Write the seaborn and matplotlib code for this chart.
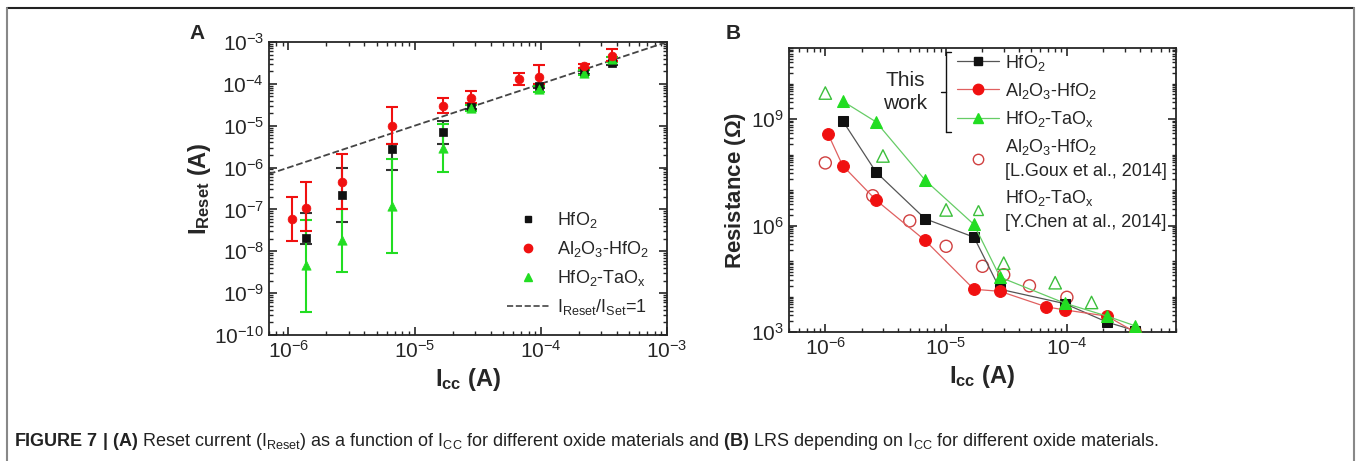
import numpy as np
import matplotlib
matplotlib.use("Agg")
import matplotlib.pyplot as plt
import seaborn as sns
from matplotlib.lines import Line2D
from matplotlib.ticker import LogLocator, FixedLocator, NullFormatter

# datos panel A: I_reset vs I_cc
icc_hfo2 = [1.37e-6, 2.64e-6, 6.6e-6, 1.69e-5, 2.78e-5, 9.6e-5, 2.18e-4, 3.66e-4]
ires_hfo2 = [2.1e-8, 2.2e-7, 2.8e-6, 6.9e-6, 2.8e-5, 8.9e-5, 1.95e-4, 3.2e-4]
hi_hfo2 = [8.3e-8, 1.0e-6, 3.6e-6, 1.3e-5, 3.2e-5, 1.0e-4, 2.2e-4, 3.5e-4]
lo_hfo2 = [1.5e-8, 5.0e-8, 8.7e-7, 3.6e-6, 2.5e-5, 8.0e-5, 1.75e-4, 2.9e-4]

icc_al = [1.06e-6, 1.37e-6, 2.64e-6, 6.6e-6, 1.69e-5, 2.78e-5, 6.77e-5, 9.6e-5, 2.18e-4, 3.66e-4]
ires_al = [5.9e-8, 1.1e-7, 4.6e-7, 1.0e-5, 2.95e-5, 4.7e-5, 1.3e-4, 1.45e-4, 2.7e-4, 4.7e-4]
hi_al = [2.0e-7, 4.6e-7, 2.1e-6, 2.75e-5, 4.5e-5, 6.9e-5, 1.8e-4, 2.8e-4, 3.0e-4, 6.8e-4]
lo_al = [1.8e-8, 3.0e-8, 1.0e-7, 3.6e-6, 2.0e-5, 3.5e-5, 9.3e-5, 1.0e-4, 2.4e-4, 3.5e-4]

icc_ta = [1.37e-6, 2.64e-6, 6.6e-6, 1.69e-5, 2.78e-5, 9.6e-5, 2.18e-4, 3.66e-4]
ires_ta = [4.6e-9, 1.9e-8, 1.2e-7, 2.9e-6, 2.6e-5, 7.4e-5, 1.8e-4, 3.9e-4]
hi_ta = [5.7e-8, 1.0e-7, 1.6e-6, 1.07e-5, 3.2e-5, 9.0e-5, 2.1e-4, 4.4e-4]
lo_ta = [3.5e-10, 3.2e-9, 9.1e-9, 7.8e-7, 2.2e-5, 6.5e-5, 1.6e-4, 3.4e-4]

linea_ref = [7.0e-7, 1.0e-3]  # I_reset/I_set = 1

# datos panel B: resistencia LRS vs I_cc
icc_b = [1.39e-6, 2.63e-6, 6.7e-6, 1.7e-5, 2.8e-5, 9.6e-5, 2.15e-4, 3.66e-4]
r_hfo2 = [9.0e8, 3.2e7, 1.55e6, 4.7e5, 1.6e4, 6.3e3, 1.9e3, 1.1e3]
r_ta = [3.2e9, 8.3e8, 1.9e7, 1.07e6, 3.5e4, 6.5e3, 2.8e3, 1.5e3]
icc_b_al = [1.05e-6, 1.39e-6, 2.63e-6, 6.7e-6, 1.7e-5, 2.8e-5, 6.77e-5, 9.6e-5, 2.15e-4, 3.66e-4]
r_al = [3.9e8, 4.9e7, 5.2e6, 3.8e5, 1.6e4, 1.4e4, 5.1e3, 4.2e3, 2.8e3, 1.0e3]
icc_goux = [1.0e-6, 2.47e-6, 5.0e-6, 1.0e-5, 2.0e-5, 3.0e-5, 4.9e-5, 1.0e-4]
r_goux = [5.8e7, 6.9e6, 1.35e6, 2.6e5, 7.1e4, 4.1e4, 2.0e4, 9.5e3]
icc_chen = [1.0e-6, 3.0e-6, 1.0e-5, 3.0e-5, 8.0e-5, 1.6e-4]
r_chen = [5.4e9, 9.1e7, 2.75e6, 8.7e4, 2.45e4, 6.8e3]

# estilo
sns.set_style("ticks")
plt.rcParams["font.family"] = ["Liberation Sans", "DejaVu Sans"]
plt.rcParams["mathtext.fontset"] = "custom"
plt.rcParams["mathtext.rm"] = "Liberation Sans"
plt.rcParams["mathtext.it"] = "Liberation Sans:italic"
plt.rcParams["mathtext.bf"] = "Liberation Sans:bold"
plt.rcParams["axes.linewidth"] = 1.3

NEGRO = "#111111"
ROJO = "#f01010"
VERDE = "#22dd22"

fig = plt.figure(figsize=(13.57, 4.61), dpi=100)
axA = fig.add_axes([0.1982, 0.2733, 0.2933, 0.6356])
axB = fig.add_axes([0.5814, 0.2798, 0.2852, 0.6160])


def estilo_log(ax):
    ax.set_xscale("log")
    ax.set_yscale("log")
    ax.tick_params(which="both", direction="in", top=True, right=True, labelsize=15)
    ax.tick_params(which="major", length=6, width=1.2)
    ax.tick_params(which="minor", length=3, width=1.0)
    ax.xaxis.set_minor_locator(LogLocator(base=10, subs=np.arange(2, 10), numticks=100))
    ax.xaxis.set_minor_formatter(NullFormatter())


# ---- panel A
estilo_log(axA)
axA.plot(linea_ref, linea_ref, ls="--", color="#444444", lw=1.3)

series_a = [
    (icc_hfo2, ires_hfo2, lo_hfo2, hi_hfo2, "#333333", NEGRO, "s", 30),
    (icc_ta, ires_ta, lo_ta, hi_ta, VERDE, VERDE, "^", 45),
    (icc_al, ires_al, lo_al, hi_al, ROJO, ROJO, "o", 40),
]
for x, y, lo, hi, c_err, c_mk, mk, s in series_a:
    y = np.array(y)
    yerr = [y - np.array(lo), np.array(hi) - y]
    axA.errorbar(x, y, yerr=yerr, fmt="none", ecolor=c_err, elinewidth=1.5,
                 capsize=4, capthick=1.5)
    sns.scatterplot(x=x, y=y, marker=mk, color=c_mk, s=s, edgecolor=c_mk,
                    linewidth=0.5, ax=axA, zorder=3)

axA.set_xlim(7.0e-7, 1.0e-3)
axA.set_ylim(1e-10, 1e-3)
axA.yaxis.set_major_locator(LogLocator(base=10, numticks=20))
axA.yaxis.set_minor_locator(LogLocator(base=10, subs=np.arange(2, 10), numticks=100))
axA.yaxis.set_minor_formatter(NullFormatter())
axA.set_xlabel(r"$\mathbf{I_{cc}}$ (A)", fontsize=17, fontweight="bold", labelpad=3)
axA.set_ylabel(r"$\mathbf{I_{Reset}}$ (A)", fontsize=17, fontweight="bold", labelpad=1)

handles_a = [
    Line2D([], [], ls="none", marker="s", color=NEGRO, markersize=5),
    Line2D([], [], ls="none", marker="o", color=ROJO, markersize=6),
    Line2D([], [], ls="none", marker="^", color=VERDE, markersize=6),
    Line2D([], [], ls="--", color="#444444", lw=1.2),
]
labels_a = [r"HfO$_2$", r"Al$_2$O$_3$-HfO$_2$", r"HfO$_2$-TaO$_\mathrm{x}$",
            r"I$_\mathrm{Reset}$/I$_\mathrm{Set}$=1"]
axA.legend(handles_a, labels_a, loc="lower right", bbox_to_anchor=(0.955, 0.06),
           frameon=False, fontsize=13, handlelength=2.3, handletextpad=0.45,
           labelspacing=0.5, borderpad=0, borderaxespad=0)

# ---- panel B
estilo_log(axB)
sns.lineplot(x=icc_b, y=r_hfo2, marker="s", color="#555555", markersize=7, lw=0.9,
             markerfacecolor=NEGRO, markeredgecolor=NEGRO, sort=False, estimator=None,
             ax=axB, zorder=3)
sns.lineplot(x=icc_b_al, y=r_al, marker="o", color="#e06060", markersize=8.5, lw=0.9,
             markerfacecolor=ROJO, markeredgecolor=ROJO, sort=False, estimator=None,
             ax=axB, zorder=3)
sns.lineplot(x=icc_b, y=r_ta, marker="^", color="#66cc66", markersize=9, lw=0.9,
             markerfacecolor=VERDE, markeredgecolor=VERDE, sort=False, estimator=None,
             ax=axB, zorder=3)
sns.scatterplot(x=icc_goux, y=r_goux, marker="o", facecolor="none",
                edgecolor="#d04040", linewidth=1.0, s=75, ax=axB, zorder=2)
sns.scatterplot(x=icc_chen, y=r_chen, marker="^", facecolor="none",
                edgecolor="#3cbf3c", linewidth=1.0, s=80, ax=axB, zorder=2)

axB.set_xlim(5.0e-7, 8.0e-4)
axB.set_ylim(1e3, 1e11)
axB.yaxis.set_major_locator(FixedLocator([1e3, 1e6, 1e9]))
axB.yaxis.set_minor_locator(LogLocator(base=10, subs=np.arange(1, 10), numticks=100))
axB.yaxis.set_minor_formatter(NullFormatter())
axB.set_xlabel(r"$\mathbf{I_{cc}}$ (A)", fontsize=17, fontweight="bold", labelpad=3)
axB.set_ylabel(r"Resistance ($\mathbf{\Omega}$)", fontsize=16, fontweight="bold", labelpad=2)

handles_b = [
    Line2D([], [], marker="s", color="#555555", mfc=NEGRO, mec=NEGRO, markersize=6, lw=0.9),
    Line2D([], [], marker="o", color="#e06060", mfc=ROJO, mec=ROJO, markersize=7.5, lw=0.9),
    Line2D([], [], marker="^", color="#66cc66", mfc=VERDE, mec=VERDE, markersize=7.5, lw=0.9),
    Line2D([], [], ls="none", marker="o", mfc="none", mec="#d04040", markersize=7.5),
    Line2D([], [], ls="none", marker="^", mfc="none", mec="#3cbf3c", markersize=7.5),
]
labels_b = [r"HfO$_2$", r"Al$_2$O$_3$-HfO$_2$", r"HfO$_2$-TaO$_\mathrm{x}$",
            "Al$_2$O$_3$-HfO$_2$\n[L.Goux et al., 2014]",
            "HfO$_2$-TaO$_\\mathrm{x}$\n[Y.Chen at al., 2014]"]
legB = axB.legend(handles_b, labels_b, loc="upper left", bbox_to_anchor=(0.43, 0.99),
                  frameon=False, fontsize=13, handlelength=2.3, handletextpad=0.35,
                  labelspacing=0.45, borderpad=0.1, borderaxespad=0)
for t in legB.get_texts():
    t.set_linespacing(1.45)

# "This work" y corchete
axB.text(0.30, 0.845, "This\nwork", transform=axB.transAxes, ha="center", va="center",
         fontsize=15, linespacing=1.25)
tr = axB.transAxes
for xs, ys in [([0.406, 0.406], [0.987, 0.704]), ([0.406, 0.418], [0.987, 0.987]),
               ([0.406, 0.418], [0.704, 0.704]), ([0.406, 0.394], [0.846, 0.846])]:
    axB.add_line(Line2D(xs, ys, transform=tr, color=NEGRO, lw=1.0, clip_on=False))

# letras de panel
fig.text(197 / 1357, 1 - 33 / 461, "A", fontsize=15, fontweight="bold", ha="center", va="center")
fig.text(733 / 1357, 1 - 33 / 461, "B", fontsize=15, fontweight="bold", ha="center", va="center")

# marco de la figura
fig.add_artist(Line2D([7 / 1357, 1354 / 1357], [1 - 8 / 461, 1 - 8 / 461],
                      transform=fig.transFigure, color="#222222", lw=1.5))
fig.add_artist(Line2D([7 / 1357, 7 / 1357], [0, 1 - 8 / 461],
                      transform=fig.transFigure, color="#888888", lw=1.5))
fig.add_artist(Line2D([1354 / 1357, 1354 / 1357], [0, 1 - 8 / 461],
                      transform=fig.transFigure, color="#888888", lw=1.5))

# pie de figura
caption = (r"$\mathbf{FIGURE\ 7\ |\ (A)}$ Reset current (I$_\mathrm{Reset}$) as a function of "
           r"I$_\mathrm{CC}$ for different oxide materials and $\mathbf{(B)}$ LRS depending on "
           r"I$_\mathrm{CC}$ for different oxide materials.")
fig.text(14 / 1357, 1 - 441 / 461, caption, fontsize=13, color="#222222", ha="left", va="center")

fig.savefig("out.png", dpi=100)
plt.close(fig)
